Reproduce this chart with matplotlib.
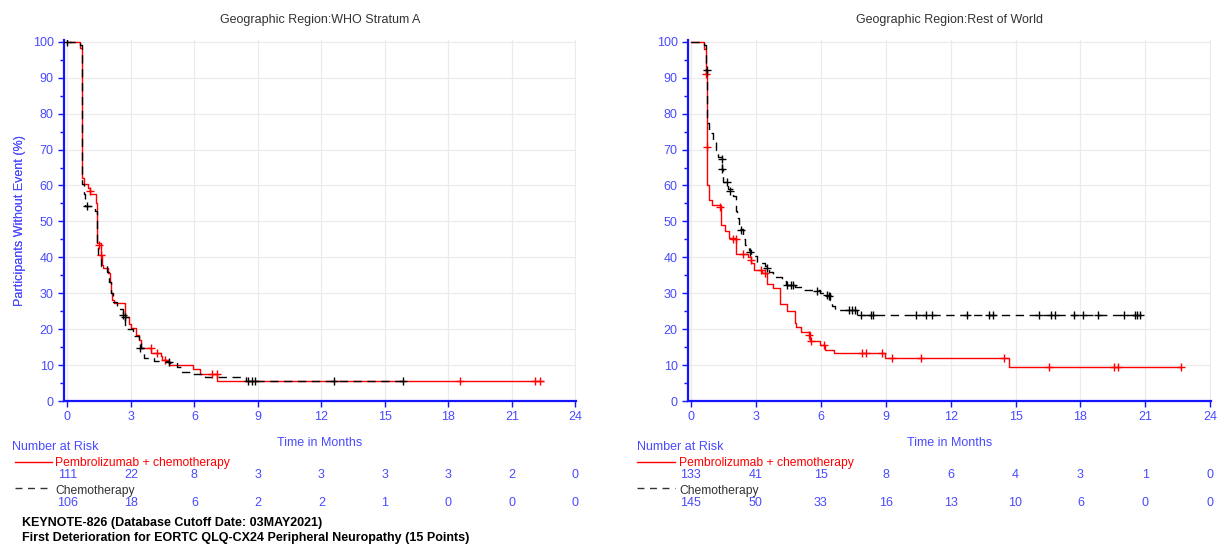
import matplotlib
matplotlib.use('Agg')
import matplotlib.pyplot as plt
from matplotlib.lines import Line2D
import matplotlib.transforms as mtransforms
from matplotlib.ticker import MultipleLocator

plt.rcParams['font.family'] = ['Liberation Sans', 'DejaVu Sans']

# ---------------- data ----------------
panel_titles = ["Geographic Region:WHO Stratum A", "Geographic Region:Rest of World"]
arm_names = ["Pembrolizumab + chemotherapy", "Chemotherapy"]
risk_times = [0, 3, 6, 9, 12, 15, 18, 21, 24]

# Left panel (WHO Stratum A)
a_pem_t = [0, 0.59, 0.70, 0.78, 0.98, 1.09, 1.37, 1.40, 1.42, 1.58, 1.65, 1.68, 1.91, 2.00, 2.04,
           2.10, 2.20, 2.74, 2.92, 3.00, 3.22, 3.40, 3.47, 3.93, 4.40, 4.48, 4.79, 5.93, 6.27, 7.09, 22.45]
a_pem_s = [100, 98.2, 62.0, 60.4, 59.2, 57.6, 55.0, 48.0, 44.0, 40.6, 38.0, 36.9, 35.5, 33.0, 30.2,
           28.1, 27.2, 23.5, 21.5, 20.3, 18.4, 17.0, 14.7, 13.5, 12.4, 11.4, 10.0, 8.8, 7.6, 5.6, 5.6]
a_pem_ct = [1.06, 1.49, 1.60, 3.93, 4.25, 4.59, 6.81, 7.05, 18.56, 22.07, 22.34]
a_pem_cs = [58.4, 43.5, 40.6, 14.7, 13.5, 11.4, 7.6, 7.6, 5.6, 5.6, 5.6]

a_che_t = [0, 0.59, 0.70, 0.78, 0.85, 1.29, 1.40, 1.45, 1.60, 1.87, 1.98, 2.05, 2.15, 2.35, 2.62,
           2.72, 2.78, 3.08, 3.40, 3.48, 3.62, 4.09, 4.82, 5.18, 5.38, 5.95, 6.50, 8.45, 15.88]
a_che_s = [100, 99.1, 60.4, 57.5, 54.3, 53.0, 44.0, 40.0, 37.7, 36.0, 33.0, 30.0, 27.5, 25.5, 24.0,
           21.0, 20.0, 18.0, 17.0, 14.7, 12.0, 11.0, 10.5, 9.5, 8.2, 7.5, 6.8, 5.66, 5.66]
a_che_ct = [0.0, 0.93, 2.64, 2.72, 3.45, 4.82, 8.55, 8.71, 8.87, 12.62, 15.88]
a_che_cs = [100, 54.3, 24.0, 23.3, 14.7, 10.8, 5.66, 5.66, 5.66, 5.66, 5.66]

# Right panel (Rest of World)
b_pem_t = [0, 0.60, 0.68, 0.73, 0.77, 0.82, 0.86, 1.00, 1.39, 1.57, 1.77, 2.11, 2.65, 2.80, 2.91,
           3.31, 3.50, 3.78, 4.11, 4.45, 4.81, 4.88, 5.07, 5.50, 5.96, 6.19, 6.61, 8.97, 14.69, 22.65]
b_pem_s = [100, 98.0, 91.0, 71.0, 60.0, 57.0, 56.0, 54.5, 49.0, 47.3, 45.5, 41.0, 40.0, 38.3, 36.4,
           35.5, 32.7, 31.5, 27.0, 25.0, 21.8, 20.5, 19.2, 16.8, 15.7, 14.3, 13.4, 12.0, 9.55, 9.55]
b_pem_ct = [0.72, 0.74, 1.37, 1.96, 2.08, 2.39, 2.76, 3.22, 3.41, 5.47, 5.55, 6.16, 7.92, 8.09,
            8.84, 9.28, 10.62, 14.47, 16.56, 19.56, 19.74, 22.65]
b_pem_cs = [90.9, 70.8, 54.0, 45.0, 45.0, 41.0, 39.2, 36.5, 35.5, 18.5, 16.8, 15.5, 13.4, 13.4,
            13.4, 12.0, 12.0, 12.0, 9.55, 9.55, 9.55, 9.55]

b_che_t = [0, 0.60, 0.69, 0.76, 0.82, 1.03, 1.16, 1.26, 1.42, 1.49, 1.73, 1.93, 2.08, 2.14, 2.23,
           2.39, 2.50, 2.70, 2.76, 3.04, 3.42, 3.62, 3.81, 4.19, 4.39, 4.81, 5.19, 5.96, 6.43, 6.50,
           6.66, 7.66, 20.80]
b_che_s = [100, 99.0, 92.2, 77.3, 74.5, 72.0, 70.0, 68.0, 64.5, 61.0, 59.0, 57.0, 53.0, 51.0, 48.0,
           45.0, 43.5, 42.0, 40.5, 38.3, 37.5, 36.0, 34.5, 33.5, 32.2, 31.8, 31.0, 30.0, 28.0, 26.5,
           25.3, 24.0, 24.0]
b_che_ct = [0.76, 1.42, 1.42, 1.65, 1.83, 2.31, 2.73, 3.53, 4.45, 4.65, 4.73, 5.81, 6.27, 6.38,
            7.32, 7.43, 7.58, 7.86, 8.31, 8.40, 10.39, 10.85, 11.13, 12.75, 13.79, 13.95, 16.10,
            16.63, 16.83, 17.71, 18.14, 18.83, 20.02, 20.53, 20.60, 20.76]
b_che_cs = [92.2, 67.5, 64.5, 61.0, 58.5, 47.5, 41.5, 37.0, 32.2, 32.2, 32.2, 30.5, 29.6, 29.2,
            25.3, 25.3, 25.3, 24.0, 24.0, 24.0, 24.0, 24.0, 24.0, 24.0, 24.0, 24.0, 24.0,
            24.0, 24.0, 24.0, 24.0, 24.0, 24.0, 24.0, 24.0, 24.0]

a_risk_pem = [111, 22, 8, 3, 3, 3, 3, 2, 0]
a_risk_che = [106, 18, 6, 2, 2, 1, 0, 0, 0]
b_risk_pem = [133, 41, 15, 8, 6, 4, 3, 1, 0]
b_risk_che = [145, 50, 33, 16, 13, 10, 6, 0, 0]

footnote1 = "KEYNOTE-826 (Database Cutoff Date: 03MAY2021)"
footnote2 = "First Deterioration for EORTC QLQ-CX24 Peripheral Neuropathy (15 Points)"

# ---------------- styling ----------------
W, H = 1225, 546
RED = '#ff0000'
BLK = '#000000'
TXTBLUE = '#4a4aff'
SPINE = '#1414ff'
GRID = '#ebebeb'

fig = plt.figure(figsize=(W / 100, H / 100), dpi=100)

def fx(px):
    return px / W

def fy(py):
    return 1 - py / H

panels = [
    dict(left=64, right=576, xmin=-0.16, title=panel_titles[0],
         pem=(a_pem_t, a_pem_s, a_pem_ct, a_pem_cs), che=(a_che_t, a_che_s, a_che_ct, a_che_cs),
         rp=a_risk_pem, rc=a_risk_che, tx=12, lx0=15, lx1=52, ltx=55),
    dict(left=688, right=1211, xmin=-0.13, title=panel_titles[1],
         pem=(b_pem_t, b_pem_s, b_pem_ct, b_pem_cs), che=(b_che_t, b_che_s, b_che_ct, b_che_cs),
         rp=b_risk_pem, rc=b_risk_che, tx=637, lx0=637, lx1=675, ltx=679),
]

top_px, bot_px = 40, 401

for p in panels:
    ax = fig.add_axes([fx(p['left']), fy(bot_px), fx(p['right'] - p['left']), (bot_px - top_px) / H])
    ax.set_xlim(p['xmin'], 24.03)
    ax.set_ylim(0, 100.5)
    ax.xaxis.set_major_locator(MultipleLocator(3))
    ax.yaxis.set_major_locator(MultipleLocator(10))
    ax.yaxis.set_minor_locator(MultipleLocator(5))
    ax.grid(True, which='major', color=GRID, lw=0.9)
    ax.set_axisbelow(True)
    for s in ['top', 'right']:
        ax.spines[s].set_visible(False)
    for s in ['left', 'bottom']:
        ax.spines[s].set_color(SPINE)
        ax.spines[s].set_linewidth(1.6)
    ax.tick_params(axis='both', which='major', direction='out', length=4, width=1,
                   color=SPINE, labelcolor=TXTBLUE, labelsize=9)
    ax.tick_params(axis='y', which='minor', direction='out', length=3, width=1, color=SPINE)

    t, s, ct, cs = p['pem']
    ax.plot(t, s, drawstyle='steps-post', color=RED, lw=1.0, zorder=3)
    ax.plot(ct, cs, ls='none', marker='+', ms=5.5, mew=1.0, color=RED, zorder=4)
    t, s, ct, cs = p['che']
    ax.plot(t, s, drawstyle='steps-post', color=BLK, lw=1.0, dashes=(6, 4), zorder=3)
    ax.plot(ct, cs, ls='none', marker='+', ms=5.5, mew=1.0, color=BLK, zorder=4)

    ax.set_title(p['title'], fontsize=9, color='#333333', pad=12.5)
    ax.set_ylabel("Participants Without Event (%)", fontsize=9, color=TXTBLUE)
    ax.yaxis.set_label_coords((26 - p['left']) / (p['right'] - p['left']), 0.5)
    ax.set_xlabel("Time in Months", fontsize=9, color=TXTBLUE)
    ax.xaxis.set_label_coords(0.5, (bot_px - 437) / (bot_px - top_px))

    # Number at risk table
    fig.text(fx(p['tx']), fy(447), "Number at Risk", fontsize=9, color=TXTBLUE,
             ha='left', va='center')
    fig.add_artist(Line2D([fx(p['lx0']), fx(p['lx1'])], [fy(462), fy(462)], color=RED, lw=1.0))
    fig.text(fx(p['ltx']), fy(463), arm_names[0], fontsize=8.7, color=RED, ha='left', va='center')
    fig.add_artist(Line2D([fx(p['lx0']), fx(p['lx1'])], [fy(488), fy(488)], color='#333333',
                          lw=1.0, dashes=(5, 4)))
    fig.text(fx(p['ltx']), fy(491), arm_names[1], fontsize=8.7, color='#333333', ha='left', va='center')
    trans = mtransforms.blended_transform_factory(ax.transData, fig.transFigure)
    for xt, n in zip(risk_times, p['rp']):
        ax.text(xt, fy(475), str(n), transform=trans, fontsize=9, color=TXTBLUE,
                ha='center', va='center', clip_on=False)
    for xt, n in zip(risk_times, p['rc']):
        ax.text(xt, fy(503), str(n), transform=trans, fontsize=9, color=TXTBLUE,
                ha='center', va='center', clip_on=False)

fig.text(fx(22), fy(523), footnote1, fontsize=9, color='black', fontweight='bold',
         ha='left', va='center')
fig.text(fx(22), fy(538), footnote2, fontsize=9, color='black', fontweight='bold',
         ha='left', va='center')

fig.savefig('out.png', dpi=100)
